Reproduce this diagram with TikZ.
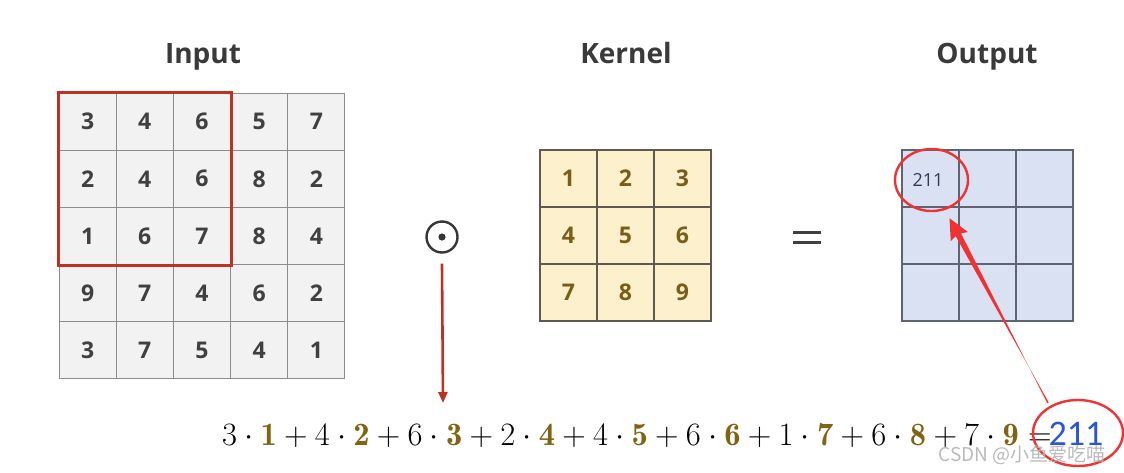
\RequirePackage{fix-cm}
\documentclass[tikz,border=0pt]{standalone}
\usepackage{fontspec}
\setsansfont{Open Sans}
\newfontfamily\cjkfont{Noto Sans CJK SC}
\newfontfamily\carlito{Carlito}
\usetikzlibrary{shapes.geometric,calc,arrows.meta}
\definecolor{inputfill}{RGB}{242,242,242}
\definecolor{inputline}{RGB}{140,140,140}
\definecolor{numgray}{RGB}{64,64,64}
\definecolor{kernfill}{RGB}{253,240,204}
\definecolor{kernline}{RGB}{95,90,80}
\definecolor{kernnum}{RGB}{122,94,24}
\definecolor{outfill}{RGB}{218,225,242}
\definecolor{outline}{RGB}{95,100,115}
\definecolor{outnum}{RGB}{50,58,88}
\definecolor{boxred}{RGB}{190,50,35}
\definecolor{annred}{RGB}{240,50,50}
\definecolor{eqgold}{RGB}{128,100,20}
\definecolor{eqblue}{RGB}{45,85,215}
\definecolor{titlegray}{RGB}{58,58,58}
\begin{document}
\begin{tikzpicture}[x=1pt,y=-1pt,
  cellbase/.style={minimum size=57pt, inner sep=0pt, line width=1.1pt,
    font=\sffamily\bfseries\fontsize{23}{23}\selectfont},
  incell/.style={cellbase, draw=inputline, fill=inputfill, text=numgray},
  kcell/.style={cellbase, draw=kernline, fill=kernfill, text=kernnum},
  ocell/.style={cellbase, draw=outline, fill=outfill, text=outnum},
  title/.style={font=\sffamily\bfseries\fontsize{28}{28}\selectfont, text=titlegray, anchor=base},
  annell/.style={ellipse, draw=annred, line width=2.4pt, inner sep=0pt},
]
\useasboundingbox (0,0) rectangle (1124,472);

% titles
\node[title] (tin) at (203,63) {Input};
\node[title] (tk) at (626,63) {Kernel};
\node[title] (tout) at (987,63) {Output};

% input grid
\foreach \row [count=\i from 0] in {{3,4,6,5,7},{2,4,6,8,2},{1,6,7,8,4},{9,7,4,6,2},{3,7,5,4,1}}{
  \foreach \v [count=\j from 0] in \row {
    \node[incell] (in-\i-\j) at ({87.6+57.2*\j},{121.6+57.2*\i}) {\v};
  }
}
\draw[boxred, line width=3pt] (in-0-0.north west) rectangle (in-2-2.south east);

% kernel grid
\foreach \row [count=\i from 0] in {{1,2,3},{4,5,6},{7,8,9}}{
  \foreach \v [count=\j from 0] in \row {
    \node[kcell] (k-\i-\j) at ({568.5+57*\j},{178.5+57*\i}) {\v};
  }
}

% output grid
\foreach \i in {0,1,2}{
  \foreach \j in {0,1,2}{
    \node[ocell] (o-\i-\j) at ({930.5+57*\j},{178.5+57*\i}) {};
  }
}
\node[font=\sffamily\fontsize{18}{18}\selectfont, text=outnum] (val) at (928,180) {211};

% odot operator
\node[circle, draw=numgray!85!black, line width=2.4pt, minimum size=31pt, inner sep=0pt] (odot) at (442,237) {};
\fill[numgray!85!black] (odot.center) circle (3.6pt);
\coordinate (downend) at (443,403);
\draw[boxred, line width=2.6pt, -{Triangle[length=11pt,width=9pt]}] ($(odot.south)+(0,10)$) -- (downend);

% equals sign
\node (eqsign) at (807,237) {};
\fill[numgray] (793,230.5) rectangle (821,233.5);
\fill[numgray] (793,240.5) rectangle (821,243.5);

% equation
\node[anchor=base west, inner sep=0pt] (eq) at (222,445)
  {\fontsize{32.6}{32.6}\selectfont
   $3\cdot\textcolor{eqgold}{\mathbf{1}}+4\cdot\textcolor{eqgold}{\mathbf{2}}+6\cdot\textcolor{eqgold}{\mathbf{3}}+2\cdot\textcolor{eqgold}{\mathbf{4}}+4\cdot\textcolor{eqgold}{\mathbf{5}}+6\cdot\textcolor{eqgold}{\mathbf{6}}+1\cdot\textcolor{eqgold}{\mathbf{7}}+6\cdot\textcolor{eqgold}{\mathbf{8}}+7\cdot\textcolor{eqgold}{\mathbf{9}}=$\hspace{-3pt}{\carlito\fontsize{36}{36}\selectfont\textcolor{eqblue}{211}}};

% annotations
\node[annell, minimum width=73pt, minimum height=62pt] (ell1) at (931.5,180) {};
\node[annell, minimum width=90pt, minimum height=66pt] (ell2) at (1078,433) {};
\coordinate (T) at ($(ell1.south)+(18,6)$);
\coordinate (S) at ($(ell2.north)+(-30,4)$);
\fill[annred] (T) -- ($(T)!23pt!25:(S)$) -- ($(T)!19pt!9:(S)$)
  -- ($(S)!0.8pt!90:(T)$) -- ($(S)!0.8pt!-90:(T)$)
  -- ($(T)!19pt!-9:(S)$) -- ($(T)!23pt!-25:(S)$) -- cycle;

% watermark
\node[font=\cjkfont\fontsize{19}{19}\selectfont, text=gray!60, opacity=0.9] (wm) at (1022,455) {CSDN @小鱼爱吃喵};
\end{tikzpicture}
\end{document}
